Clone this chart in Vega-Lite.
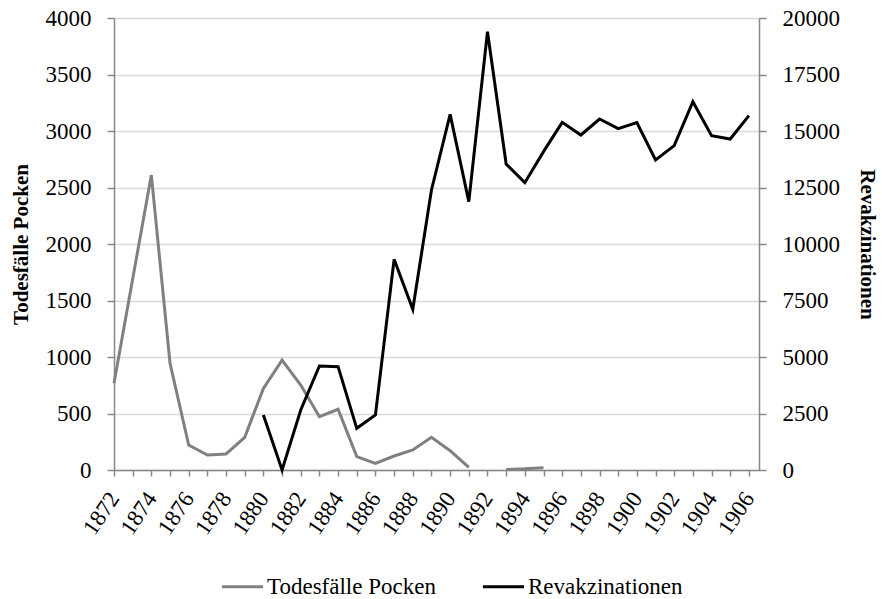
{
  "$schema": "https://vega.github.io/schema/vega-lite/v6.json",
  "width": 645,
  "height": 452,
  "autosize": {"type": "none"},
  "padding": {"left": 114, "top": 18, "right": 123, "bottom": 129},
  "background": "white",
  "config": {
    "view": {"stroke": null},
    "font": "Times New Roman, Liberation Serif, serif",
    "style": {"guide-label": {"font": "Times New Roman, Liberation Serif, serif", "fill": "#000"}, "guide-title": {"font": "Times New Roman, Liberation Serif, serif", "fill": "#000"}},
    "axis": {"labelFont": "Times New Roman, Liberation Serif, serif", "titleFont": "Times New Roman, Liberation Serif, serif", "labelColor": "#000", "titleColor": "#000", "domainColor": "#888888", "tickColor": "#888888", "domainWidth": 1.5, "tickWidth": 1.5, "labelFontSize": 23, "titleFontSize": 21, "titleFontWeight": "bold"},
    "legend": {"labelFont": "Times New Roman, Liberation Serif, serif", "labelFontSize": 23, "labelColor": "#000", "labelLimit": 400}
  },
  "data": {"values": [
    {"Jahr": 1872, "Tod": 767, "Rev": null},
    {"Jahr": 1873, "Tod": 1690, "Rev": null},
    {"Jahr": 1874, "Tod": 2610, "Rev": null},
    {"Jahr": 1875, "Tod": 944, "Rev": null},
    {"Jahr": 1876, "Tod": 221, "Rev": null},
    {"Jahr": 1877, "Tod": 133, "Rev": null},
    {"Jahr": 1878, "Tod": 142, "Rev": null},
    {"Jahr": 1879, "Tod": 289, "Rev": null},
    {"Jahr": 1880, "Tod": 722, "Rev": 2434},
    {"Jahr": 1881, "Tod": 973, "Rev": 0},
    {"Jahr": 1882, "Tod": 752, "Rev": 2655},
    {"Jahr": 1883, "Tod": 472, "Rev": 4602},
    {"Jahr": 1884, "Tod": 537, "Rev": 4572},
    {"Jahr": 1885, "Tod": 118, "Rev": 1844},
    {"Jahr": 1886, "Tod": 59, "Rev": 2434},
    {"Jahr": 1887, "Tod": 124, "Rev": 9322},
    {"Jahr": 1888, "Tod": 177, "Rev": 7109},
    {"Jahr": 1889, "Tod": 289, "Rev": 12389},
    {"Jahr": 1890, "Tod": 171, "Rev": 15737},
    {"Jahr": 1891, "Tod": 24, "Rev": 11873},
    {"Jahr": 1892, "Tod": null, "Rev": 19395},
    {"Jahr": 1893, "Tod": 5, "Rev": 13540},
    {"Jahr": 1894, "Tod": 10, "Rev": 12714},
    {"Jahr": 1895, "Tod": 20, "Rev": 14086},
    {"Jahr": 1896, "Tod": null, "Rev": 15383},
    {"Jahr": 1897, "Tod": null, "Rev": 14823},
    {"Jahr": 1898, "Tod": null, "Rev": 15531},
    {"Jahr": 1899, "Tod": null, "Rev": 15103},
    {"Jahr": 1900, "Tod": null, "Rev": 15368},
    {"Jahr": 1901, "Tod": null, "Rev": 13717},
    {"Jahr": 1902, "Tod": null, "Rev": 14351},
    {"Jahr": 1903, "Tod": null, "Rev": 16298},
    {"Jahr": 1904, "Tod": null, "Rev": 14794},
    {"Jahr": 1905, "Tod": null, "Rev": 14646},
    {"Jahr": 1906, "Tod": null, "Rev": 15678}
  ]},
  "encoding": {
    "x": {
      "field": "Jahr", "type": "quantitative",
      "scale": {"domain": [1872, 1906.54], "nice": false, "zero": false},
      "axis": {
        "title": null, "grid": false,
        "values": [1872,1873,1874,1875,1876,1877,1878,1879,1880,1881,1882,1883,1884,1885,1886,1887,1888,1889,1890,1891,1892,1893,1894,1895,1896,1897,1898,1899,1900,1901,1902,1903,1904,1905,1906],
        "labelExpr": "datum.value % 2 == 0 ? format(datum.value, 'd') : ''",
        "labelAngle": -56, "labelAlign": "right", "labelBaseline": "middle", "labelFontSize": 23,
        "tickSize": 6, "labelPadding": 18, "labelOverlap": false, "labelBound": false, "labelFlush": false
      }
    }
  },
  "layer": [
    {
      "mark": {"type": "line", "strokeWidth": 3, "invalid": "break-paths-show-domains"},
      "encoding": {
        "y": {
          "field": "Tod", "type": "quantitative",
          "scale": {"domain": [0, 4000], "nice": false},
          "axis": {"title": "Todesfälle Pocken", "format": "d", "values": [0,500,1000,1500,2000,2500,3000,3500,4000], "grid": true, "gridColor": "#d9d9d9", "gridWidth": 1.5, "tickSize": 7, "labelPadding": 16, "titlePadding": 14, "orient": "left"}
        },
        "color": {"datum": "Todesfälle Pocken", "type": "nominal",
          "scale": {"domain": ["Todesfälle Pocken", "Revakzinationen"], "range": ["#808080", "#000000"]},
          "legend": {"title": null, "orient": "none", "legendX": 106, "legendY": 546, "direction": "horizontal", "symbolType": "stroke", "symbolSize": 1700, "symbolStrokeWidth": 3, "columnPadding": 40, "labelOffset": 2}
        }
      }
    },
    {
      "mark": {"type": "line", "strokeWidth": 3, "invalid": "break-paths-show-domains"},
      "encoding": {
        "y": {
          "field": "Rev", "type": "quantitative",
          "scale": {"domain": [0, 20000], "nice": false},
          "axis": {"title": "Revakzinationen", "format": "d", "orient": "right", "values": [0,2500,5000,7500,10000,12500,15000,17500,20000], "grid": false, "tickSize": 7, "labelPadding": 16, "titlePadding": 17, "titleAngle": 90}
        },
        "color": {"datum": "Revakzinationen", "type": "nominal"}
      }
    }
  ],
  "resolve": {"scale": {"y": "independent"}}
}
